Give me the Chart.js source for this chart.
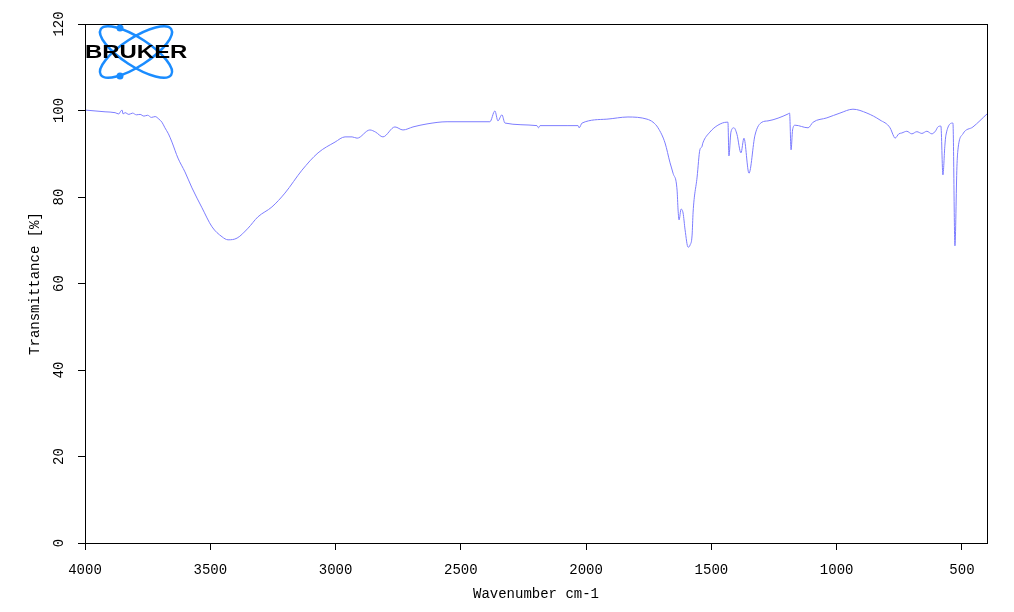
<!DOCTYPE html>
<html>
<head>
<meta charset="utf-8">
<script src="https://cdn.jsdelivr.net/npm/chart.js@4.4.1/dist/chart.umd.min.js"></script>
<style>
    html, body { margin: 0; padding: 0; background: #fff; }
    #spectrumChart { display: block; }
</style>
</head>
<body>
<canvas id="spectrumChart" width="1014" height="612"></canvas>
<script>
// 스펙트럼 데이터
const wavenumbers = [
    4000, 3960, 3920, 3880, 3865, 3858, 3852, 3848, 3840, 3825, 3810, 3795, 3780, 3765, 3750, 3735,
    3720, 3705, 3693, 3681, 3667, 3653, 3629, 3601, 3573, 3533, 3493, 3453, 3429, 3393, 3349, 3310,
    3254, 3202, 3134, 3070, 3002, 2962, 2934, 2914, 2863, 2840, 2811, 2763, 2731, 2691, 2635, 2555,
    2384, 2364, 2352, 2336, 2324, 2196, 2190, 2184, 2076, 2032, 2028, 2016, 1917, 1833, 1757, 1733,
    1713, 1685, 1665, 1653, 1637, 1633, 1629, 1621, 1613, 1605, 1593, 1585, 1577, 1573, 1557, 1546,
    1538, 1534, 1506, 1474, 1438, 1434, 1430, 1422, 1410, 1398, 1382, 1370, 1350, 1326, 1298, 1274,
    1194, 1188, 1182, 1176, 1166, 1114, 1094, 1039, 987, 935, 879, 827, 787, 772, 767, 752,
    740, 720, 700, 680, 660, 640, 620, 605, 596, 584, 576, 568, 564, 536, 528, 520,
    516, 496, 456, 400
];
const transmittance = [
    100.1, 99.9, 99.7, 99.5, 99.2, 99.8, 100.1, 99.2, 99.5, 99.1, 99.4, 99.0, 99.1, 98.7, 98.9, 98.4,
    98.6, 98.0, 97.3, 96.0, 94.6, 92.7, 89.0, 85.8, 82.1, 77.5, 73.1, 70.8, 70.1, 70.5, 72.8, 75.4,
    77.7, 80.9, 86.2, 90.2, 92.7, 93.9, 93.9, 93.6, 95.5, 95.0, 93.9, 96.2, 95.5, 96.2, 96.9, 97.4,
    97.4, 99.9, 97.6, 99.0, 97.1, 96.5, 96.0, 96.5, 96.5, 96.5, 96.0, 97.1, 98.0, 98.5, 98.0, 97.3,
    96.0, 92.5, 87.9, 85.5, 81.6, 77.0, 74.7, 77.2, 76.3, 72.4, 68.4, 68.9, 71.2, 76.5, 84.6, 90.9,
    91.6, 92.5, 95.0, 96.6, 97.3, 97.3, 89.5, 95.0, 96.0, 94.5, 90.2, 93.6, 85.5, 94.3, 97.3, 97.6,
    99.2, 99.4, 90.9, 95.5, 96.6, 96.0, 97.3, 98.3, 99.4, 100.3, 99.4, 97.8, 96.0, 94.0, 93.6, 94.6,
    94.8, 95.2, 94.6, 95.1, 94.7, 95.2, 94.6, 95.3, 96.2, 96.4, 85.1, 92.0, 94.3, 97.1, 68.7, 87.0,
    90.9, 94.6, 96.2, 99.2
];
const xTickValues = [4000, 3500, 3000, 2500, 2000, 1500, 1000, 500];
const yTickValues = [0, 20, 40, 60, 80, 100, 120];

const axisFont = { family: "'Liberation Mono', 'DejaVu Sans Mono', monospace", size: 14 };

// 플롯 영역 테두리
const frameBox = {
    id: 'frameBox',
    afterDraw(chart) {
        const { ctx, chartArea } = chart;
        ctx.save();
        ctx.strokeStyle = '#000';
        ctx.lineWidth = 1;
        ctx.strokeRect(Math.round(chartArea.left) + 0.5, Math.round(chartArea.top) + 0.5,
            Math.round(chartArea.right - chartArea.left), Math.round(chartArea.bottom - chartArea.top));
        ctx.restore();
    }
};

// 좌측 상단 로고
const brukerLogo = {
    id: 'brukerLogo',
    afterDraw(chart) {
        const ctx = chart.ctx;
        ctx.save();
        ctx.strokeStyle = '#1a8cff';
        ctx.fillStyle = '#1a8cff';
        ctx.lineWidth = 2.5;
        [33, -33].forEach(deg => {
            ctx.beginPath();
            ctx.ellipse(136, 52, 42, 14, deg * Math.PI / 180, 0, Math.PI * 2);
            ctx.stroke();
        });
        [[120, 28], [120, 76]].forEach(p => {
            ctx.beginPath();
            ctx.arc(p[0], p[1], 3.5, 0, Math.PI * 2);
            ctx.fill();
        });
        ctx.translate(85, 58);
        ctx.scale(1.26, 1);
        ctx.fillStyle = '#000';
        ctx.font = "bold 19px 'Liberation Sans', Arial, sans-serif";
        ctx.textBaseline = 'alphabetic';
        ctx.fillText('BRUKER', 0, 0);
        ctx.restore();
    }
};

function renderSpectrumChart() {
    const points = wavenumbers.map((wn, i) => ({ x: wn, y: transmittance[i] }));

    const ctx = document.getElementById('spectrumChart').getContext('2d');
    new Chart(ctx, {
        type: 'line',
        data: {
            datasets: [{
                data: points,
                borderColor: 'rgb(125, 125, 255)',
                borderWidth: 1,
                pointRadius: 0,
                fill: false,
                cubicInterpolationMode: 'monotone'
            }]
        },
        options: {
            responsive: false,
            animation: false,
            layout: { padding: { left: 0, top: 24, right: 27, bottom: 0 } },
            plugins: {
                legend: { display: false },
                tooltip: { enabled: false }
            },
            scales: {
                x: {
                    type: 'linear',
                    reverse: true,
                    min: 400,
                    max: 4000,
                    afterBuildTicks: axis => { axis.ticks = xTickValues.map(v => ({ value: v })); },
                    afterFit: axis => { axis.height = 69; },
                    grid: { drawOnChartArea: false, drawTicks: true, tickLength: 7, tickColor: '#000' },
                    border: { display: true, color: '#000', width: 1 },
                    ticks: { font: axisFont, color: '#000', padding: 12, maxRotation: 0, autoSkip: false,
                        callback: value => String(value) },
                    title: { display: true, text: 'Wavenumber cm-1', font: axisFont, color: '#000', padding: { top: 0, bottom: 9 } }
                },
                y: {
                    min: 0,
                    max: 120,
                    afterBuildTicks: axis => { axis.ticks = yTickValues.map(v => ({ value: v })); },
                    afterFit: axis => { axis.width = 85; },
                    grid: { drawOnChartArea: false, drawTicks: true, tickLength: 7, tickColor: '#000' },
                    border: { display: true, color: '#000', width: 1 },
                    ticks: { font: axisFont, color: '#000', padding: 6, minRotation: 90, maxRotation: 90, crossAlign: 'center',
                        callback: value => String(value) },
                    title: { display: true, text: 'Transmittance [%]', font: axisFont, color: '#000', padding: { top: 27, bottom: 0 } }
                }
            }
        },
        plugins: [frameBox, brukerLogo]
    });
}

renderSpectrumChart();
</script>
</body>
</html>
